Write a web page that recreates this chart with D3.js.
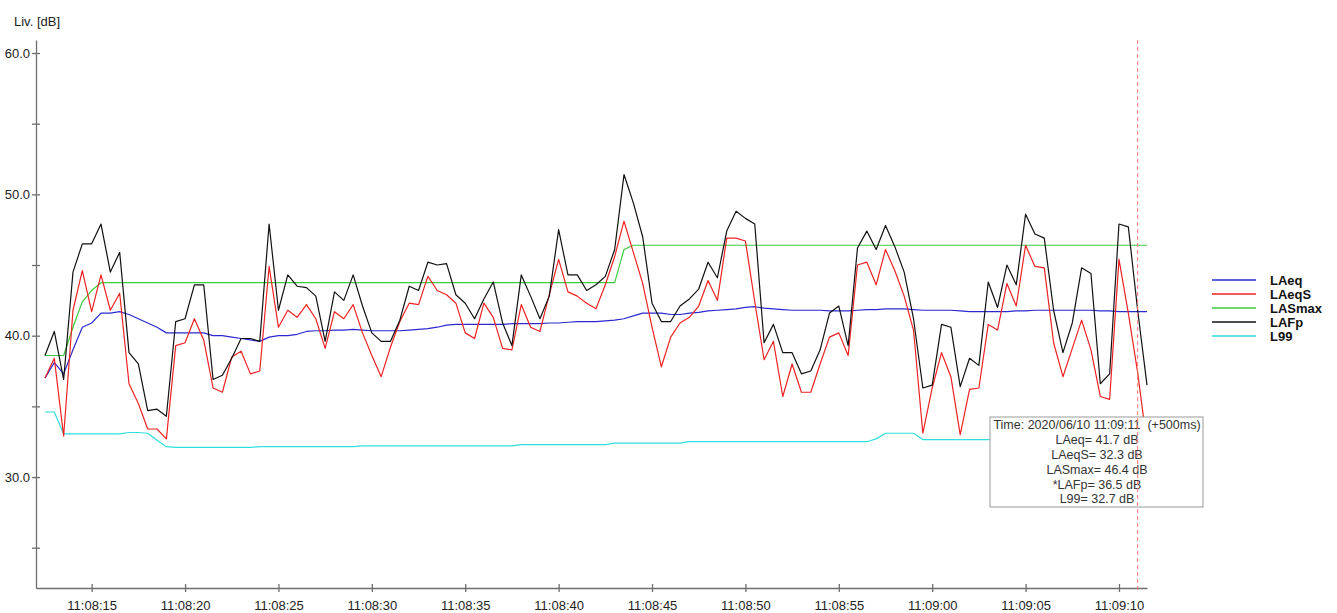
<!doctype html>
<html>
<head>
<meta charset="utf-8">
<style>
    body { margin: 0; background: #fff; }
    svg { display: block; font-family: "Liberation Sans", Arial, sans-serif; }
    .axis path, .axis line { stroke: #6e6e6e; stroke-width: 1.3; }
    .axis text { fill: #222; font-size: 13px; }
    .series { fill: none; stroke-width: 1.2; stroke-linejoin: round; }
    .legend text { font-size: 13px; font-weight: bold; fill: #111; }
    .tip text { font-size: 12.5px; fill: #333; white-space: pre; }
</style>
<script src="https://cdn.jsdelivr.net/npm/d3@7"></script>
</head>
<body>
<svg width="1337" height="613"></svg>
<script>

    // samples every 500 ms, first one at 11:08:12.5
    var startTime = new Date(2020, 5, 10, 11, 8, 12, 500),
        stepMs = 500;

    var seriesNames = ["LAeq", "LAeqS", "LASmax", "LAFp", "L99"],
        seriesColors = ["#2a2ad0", "#ee2222", "#3ccc3c", "#111111", "#30dede"];

    var LAeq = [
        37.0, 38.1, 37.3, 39.0, 40.6, 40.9, 41.6, 41.6, 41.7, 41.5, 41.2, 40.9, 40.6, 40.2, 40.2, 40.2, 40.2,
        40.2, 40.0, 40.0, 39.9, 39.8, 39.7, 39.6, 39.9, 40.0, 40.0, 40.1, 40.3, 40.35, 40.35, 40.4, 40.4, 40.45,
        40.4, 40.35, 40.35, 40.35, 40.35, 40.4, 40.45, 40.5, 40.6, 40.75, 40.8, 40.8, 40.8, 40.8, 40.8, 40.8,
        40.85, 40.85, 40.85, 40.85, 40.9, 40.9, 40.95, 41.0, 41.0, 41.0, 41.05, 41.1, 41.2, 41.4, 41.6, 41.6,
        41.6, 41.5, 41.5,
        41.6, 41.65, 41.75, 41.8, 41.85, 41.9, 42.0, 42.05, 41.95, 41.9, 41.85, 41.8, 41.8, 41.8, 41.8, 41.75,
        41.75, 41.75, 41.8, 41.85, 41.85, 41.9, 41.9, 41.9, 41.85, 41.8, 41.8, 41.8, 41.8, 41.75, 41.7, 41.7, 41.7,
        41.7, 41.7, 41.75, 41.75, 41.8, 41.8, 41.8, 41.8, 41.8, 41.8, 41.8, 41.75, 41.75, 41.7, 41.7, 41.7, 41.7
    ];

    var LAeqS = [
        37.0, 38.4, 32.9, 41.8, 44.6, 41.7, 44.3, 41.8, 43.0, 36.6, 35.2, 33.4, 33.4, 32.7, 39.3, 39.5, 41.2,
        39.7, 36.3, 36.0, 38.5, 38.9, 37.3, 37.5, 44.9, 40.6, 41.8, 41.3, 42.2, 41.2, 39.1, 41.7, 41.2, 42.2,
        40.2, 38.6, 37.1, 39.2, 41.0, 42.3, 42.2, 44.2, 43.2, 42.9, 42.3, 40.2, 39.8, 42.3, 41.3, 39.1, 39.0,
        42.2, 40.6, 40.3, 42.9, 45.4, 43.1, 42.8, 42.3, 41.9, 43.6, 45.6, 48.1, 45.9, 43.7, 40.6, 37.8, 39.9, 40.9,
        41.3, 42.1, 43.9, 42.5, 46.9, 46.9, 46.7, 42.4, 38.3, 39.6, 35.7, 38.0, 36.0, 36.0, 38.0, 39.9, 40.2,
        38.6, 45.0, 45.2, 43.6, 46.1, 44.6, 42.8, 40.4, 33.1, 36.3, 38.8, 37.1, 33.0, 36.2, 36.3, 40.8,
        40.4, 43.7, 42.1, 46.4, 44.9, 44.8, 39.5, 37.1, 39.1, 41.1, 39.0, 35.7, 35.5, 45.4, 41.6, 37.4, 32.3
    ];

    var LASmax = [
        38.6, 38.6, 38.6, 40.6, 42.4, 43.2,
        43.75, 43.75, 43.75, 43.75, 43.75, 43.75, 43.75, 43.75, 43.75, 43.75, 43.75, 43.75, 43.75, 43.75,
        43.75, 43.75, 43.75, 43.75, 43.75, 43.75, 43.75, 43.75, 43.75, 43.75, 43.75, 43.75, 43.75, 43.75,
        43.75, 43.75, 43.75, 43.75, 43.75, 43.75, 43.75, 43.75, 43.75, 43.75, 43.75, 43.75, 43.75, 43.75,
        43.75, 43.75, 43.75, 43.75, 43.75, 43.75, 43.75, 43.75, 43.75, 43.75, 43.75, 43.75, 43.75, 43.75,
        46.1,
        46.4, 46.4, 46.4, 46.4, 46.4, 46.4, 46.4, 46.4, 46.4, 46.4, 46.4, 46.4, 46.4, 46.4,
        46.4, 46.4, 46.4, 46.4, 46.4, 46.4, 46.4, 46.4, 46.4, 46.4, 46.4, 46.4, 46.4, 46.4,
        46.4, 46.4, 46.4, 46.4, 46.4, 46.4, 46.4, 46.4, 46.4, 46.4, 46.4, 46.4, 46.4, 46.4,
        46.4, 46.4, 46.4, 46.4, 46.4, 46.4, 46.4, 46.4, 46.4, 46.4, 46.4, 46.4, 46.4, 46.4
    ];

    var LAFp = [
        38.6, 40.3, 36.9, 44.5, 46.5, 46.5, 47.9, 44.5, 45.9, 38.8, 38.0, 34.7, 34.8, 34.3, 41.0, 41.2, 43.6,
        43.6, 36.9, 37.2, 38.4, 39.8, 39.8, 39.6, 47.9, 41.8, 44.3, 43.5, 43.4, 42.8, 39.6, 43.1, 42.5, 44.3,
        42.1, 40.2, 39.6, 39.6, 41.1, 43.5, 43.2, 45.2, 45.0, 45.1, 42.9, 42.3, 41.2, 42.6, 43.8, 40.9, 39.3,
        44.3, 42.8, 41.2, 42.8, 47.5, 44.3, 44.3, 43.2, 43.6, 44.2, 46.1, 51.4, 49.4, 47.0, 42.3, 41.0, 41.0, 42.1,
        42.6, 43.3, 45.2, 44.1, 47.4, 48.8, 48.3, 47.9, 39.5, 40.8, 38.8, 38.8, 37.3, 37.5, 39.0, 41.6, 42.1,
        39.3, 46.2, 47.4, 46.1, 47.8, 46.3, 44.5, 41.2, 36.3, 36.5, 40.8, 40.6, 36.4, 38.4, 37.9, 43.8,
        42.0, 45.0, 43.6, 48.6, 47.2, 46.9, 41.8, 38.8, 40.9, 44.8, 44.4, 36.6, 37.3, 47.9, 47.7, 41.8, 36.5
    ];

    var L99 = [
        34.6, 34.6, 33.05, 33.05, 33.05, 33.05, 33.05, 33.05, 33.05, 33.15, 33.15, 33.1, 32.6, 32.15,
        32.1, 32.1, 32.1, 32.1, 32.1, 32.1, 32.1, 32.1, 32.1,
        32.15, 32.15, 32.15, 32.15, 32.15, 32.15, 32.15, 32.15, 32.15, 32.15, 32.15,
        32.2, 32.2, 32.2, 32.2, 32.2, 32.2, 32.2, 32.2, 32.2, 32.2, 32.2, 32.2, 32.2, 32.2, 32.2, 32.2, 32.2,
        32.3, 32.3, 32.3, 32.3, 32.3, 32.3, 32.3, 32.3, 32.3, 32.3,
        32.4, 32.4, 32.4, 32.4, 32.4, 32.4, 32.4, 32.4,
        32.5, 32.5, 32.5, 32.5, 32.5, 32.5, 32.5, 32.5, 32.5, 32.5, 32.5, 32.5, 32.5, 32.5, 32.5, 32.5,
        32.5, 32.5, 32.5, 32.5,
        32.7, 33.1, 33.1, 33.1, 33.1, 32.65,
        32.65, 32.65, 32.65, 32.65, 32.65, 32.65, 32.65,
        32.7, 32.7, 32.7, 32.7, 32.7, 32.7, 32.7, 32.7, 32.7, 32.7, 32.7, 32.7, 32.7, 32.7, 32.7, 32.7, 32.7
    ];

    var yTicks = [25, 30, 35, 40, 45, 50, 55, 60];

    var cursorTime = new Date(2020, 5, 10, 11, 9, 11, 0);
    var tipLines = [
        "Time: 2020/06/10 11:09:11  (+500ms)",
        "LAeq= 41.7 dB",
        "LAeqS= 32.3 dB",
        "LASmax= 46.4 dB",
        "*LAFp= 36.5 dB",
        "L99= 32.7 dB"
    ];

    var allSeries = [LAeq, LAeqS, LASmax, LAFp, L99];

    var svg = d3.select("svg");

    var x = d3.scaleTime()
        .domain([new Date(2020, 5, 10, 11, 8, 12, 20), new Date(2020, 5, 10, 11, 9, 11, 500)])
        .range([36, 1147]);
    var y = d3.scaleLinear().domain([22.15, 60.92]).range([588, 40]);

    function sampleTime(i) {
        return new Date(startTime.getTime() + i * stepMs);
    }

    // axes
    var xAxis = svg.append("g")
        .attr("class", "axis")
        .attr("transform", "translate(0,588)")
        .call(d3.axisBottom(x)
            .ticks(d3.timeSecond.every(5))
            .tickFormat(d3.timeFormat("%H:%M:%S"))
            .tickSizeOuter(0));
    xAxis.selectAll(".tick line").attr("y1", -4).attr("y2", 4);
    xAxis.selectAll(".tick text").attr("y", 13);

    var yAxis = svg.append("g")
        .attr("class", "axis")
        .attr("transform", "translate(36,0)")
        .call(d3.axisLeft(y)
            .tickValues(yTicks)
            .tickFormat(function(d) { return d % 10 === 0 ? d3.format(".1f")(d) : ""; })
            .tickSizeOuter(0));
    yAxis.selectAll(".tick line").attr("x1", -4).attr("x2", 4);
    yAxis.selectAll(".tick text").attr("x", -6);
    svg.selectAll(".axis .domain").attr("fill", "none");

    svg.append("text")
       .attr("x", 14)
       .attr("y", 26)
       .attr("font-size", "13px")
       .attr("fill", "#222")
       .text("Liv. [dB]");

    // lines, drawn from L99 up to LAFp
    var line = d3.line()
        .x(function(d, i) { return x(sampleTime(i)); })
        .y(function(d) { return y(d); });

    [4, 2, 0, 1, 3].forEach(function(k) {
        svg.append("path")
           .attr("class", "series")
           .attr("stroke", seriesColors[k])
           .attr("d", line(allSeries[k]));
    });

    // legend
    var legend = svg.append("g").attr("class", "legend");
    seriesNames.forEach(function(name, k) {
        var ly = 280 + k * 14;
        legend.append("line")
              .attr("x1", 1212).attr("x2", 1256)
              .attr("y1", ly).attr("y2", ly)
              .attr("stroke", seriesColors[k])
              .attr("stroke-width", 1.3);
        legend.append("text")
              .attr("x", 1270)
              .attr("y", ly)
              .attr("dy", "0.35em")
              .text(name);
    });

    // tooltip box
    var tip = svg.append("g").attr("class", "tip");
    tip.append("rect")
       .attr("x", 990).attr("y", 417)
       .attr("width", 213).attr("height", 90)
       .attr("fill", "#fff")
       .attr("stroke", "#9a9a9a");
    tip.selectAll("text")
       .data(tipLines)
       .enter().append("text")
       .attr("x", 1097)
       .attr("y", function(d, i) { return 425 + i * 14.8; })
       .attr("dy", "0.35em")
       .attr("text-anchor", "middle")
       .text(function(d) { return d; });

    // cursor
    svg.append("line")
       .attr("x1", x(cursorTime)).attr("x2", x(cursorTime))
       .attr("y1", 40).attr("y2", 592)
       .attr("stroke", "#ff7a7a")
       .attr("stroke-width", 1)
       .attr("stroke-dasharray", "4,3");

</script>
</body>
</html>
